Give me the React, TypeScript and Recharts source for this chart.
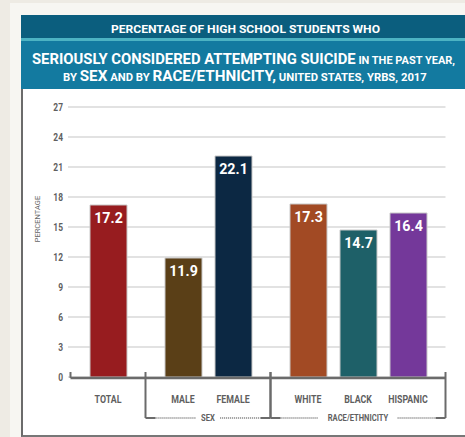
import React, { useLayoutEffect, useRef, useState } from "react";
import {
  BarChart,
  Bar,
  XAxis,
  YAxis,
  CartesianGrid,
  ReferenceLine,
  LabelList,
  Cell,
} from "recharts";

const categories = ["TOTAL", "MALE", "FEMALE", "WHITE", "BLACK", "HISPANIC"];
const percentages = [17.2, 11.9, 22.1, 17.3, 14.7, 16.4];
const groupOf = [0, 1, 1, 2, 2, 2];
const groupNames = ["", "SEX", "RACE/ETHNICITY"];
const yTicks = [0, 3, 6, 9, 12, 15, 18, 21, 24, 27];

const BAR_COLORS = ["#971c1f", "#5a3f17", "#0c2843", "#a24a24", "#1e6068", "#74389a"];
const FONT = "Roboto, 'Liberation Sans', sans-serif";
const AXIS_GRAY = "#6b6b6b";
const TEXT_GRAY = "#5f5f5f";
// horizontal squeeze to imitate the condensed face of the original
const NARROW = 0.8;

// extra spacing (in bar slots) between groups
const GROUP_GAP = 0.5;
const HALF = (1 + GROUP_GAP) / 2;
const BRACKET_Y = -4.1;
const UP = 0.5;
const END = 0.2;

const data = categories.map((name, i) => ({
  name,
  value: percentages[i],
  pos: i + GROUP_GAP * groupOf[i],
}));

const groups = groupNames.map((label, g) => {
  const ps = data.filter((_, i) => groupOf[i] === g).map((d) => d.pos);
  return { label, from: Math.min(...ps) - HALF, to: Math.max(...ps) + HALF };
});

const seg = (x1: number, y1: number, x2: number, y2: number) => [
  { x: x1, y: y1 },
  { x: x2, y: y2 },
];

// squeezes a header line so it spans the given width
function FitText({ x, y, width, children }: any) {
  const ref = useRef<SVGTextElement>(null);
  const [s, setS] = useState(0.75);
  useLayoutEffect(() => {
    if (ref.current) {
      const w = ref.current.getBBox().width;
      if (w > 0) setS(width / w);
    }
  }, [width]);
  return (
    <text
      ref={ref}
      x={0}
      y={0}
      transform={`translate(${x} ${y}) scale(${s} 1)`}
      fill="#ffffff"
      fontFamily={FONT}
      fontWeight={700}
    >
      {children}
    </text>
  );
}

const XTick = ({ x, y, payload }: any) => (
  <text
    x={0}
    y={0}
    transform={`translate(${x} ${y}) scale(${NARROW} 1)`}
    textAnchor="middle"
    dy="0.71em"
    fill={TEXT_GRAY}
    fontSize={11}
    fontWeight={700}
    fontFamily={FONT}
  >
    {data.find((d) => d.pos === payload.value)?.name ?? ""}
  </text>
);

const YTick = ({ x, y, payload }: any) => (
  <text
    x={0}
    y={0}
    transform={`translate(${x} ${y}) scale(${NARROW} 1)`}
    textAnchor="end"
    dy="0.36em"
    fill={TEXT_GRAY}
    fontSize={10.5}
    fontWeight={700}
    fontFamily={FONT}
  >
    {payload.value}
  </text>
);

const ValueLabel = (p: any) => {
  const cx = Number(p.x) + Number(p.width) / 2;
  const top = Number(p.y) + 7;
  return (
    <text
      x={0}
      y={0}
      transform={`translate(${cx} ${top}) scale(0.95 1)`}
      textAnchor="middle"
      dy="0.71em"
      fill="#ffffff"
      fontSize={15}
      fontWeight={700}
      fontFamily={FONT}
    >
      {p.value}
    </text>
  );
};

const GroupLabel = (text: string) => (p: any) => {
  const vb = p.viewBox || { x: 0, y: 0, width: 0, height: 0 };
  const cx = vb.x + (vb.width || 0) / 2;
  const cy = vb.y + (vb.height || 0) / 2;
  return (
    <text
      x={0}
      y={0}
      transform={`translate(${cx} ${cy}) scale(${NARROW} 1)`}
      textAnchor="middle"
      dy="0.36em"
      fill={TEXT_GRAY}
      fontSize={9.5}
      fontWeight={700}
      fontFamily={FONT}
    >
      {text}
    </text>
  );
};

export default function App() {
  const first = groups[0];
  const last = groups[groups.length - 1];

  // bracket under the x axis, drawn with the chart's own scales
  const bracket: React.ReactNode[] = [];
  bracket.push(
    <ReferenceLine
      key="base"
      segment={seg(first.from, -0.1, last.to, -0.1)}
      stroke={AXIS_GRAY}
      strokeWidth={2.5}
      ifOverflow="visible"
    />,
    <ReferenceLine
      key="left"
      segment={seg(first.from, -0.1, first.from, UP)}
      stroke={AXIS_GRAY}
      strokeWidth={2}
      ifOverflow="visible"
    />
  );
  groups.slice(1).forEach((g, k) => {
    const mid = (g.from + g.to) / 2;
    const gap = 0.05 * g.label.length + 0.09;
    [g.from, g.to].forEach((x, j) =>
      bracket.push(
        <ReferenceLine
          key={`v${k}${j}`}
          segment={seg(x, UP, x, BRACKET_Y)}
          stroke={AXIS_GRAY}
          strokeWidth={2}
          ifOverflow="visible"
        />
      )
    );
    bracket.push(
      <ReferenceLine
        key={`s${k}a`}
        segment={seg(g.from, BRACKET_Y, g.from + END, BRACKET_Y)}
        stroke={AXIS_GRAY}
        strokeWidth={2}
        ifOverflow="visible"
      />,
      <ReferenceLine
        key={`s${k}b`}
        segment={seg(g.to - END, BRACKET_Y, g.to, BRACKET_Y)}
        stroke={AXIS_GRAY}
        strokeWidth={2}
        ifOverflow="visible"
      />,
      <ReferenceLine
        key={`d${k}a`}
        segment={seg(g.from + END, BRACKET_Y, mid - gap, BRACKET_Y)}
        stroke="#8a8a8a"
        strokeWidth={1.5}
        strokeDasharray="1.2 0.8"
        ifOverflow="visible"
      />,
      <ReferenceLine
        key={`d${k}b`}
        segment={seg(mid + gap, BRACKET_Y, g.to - END, BRACKET_Y)}
        stroke="#8a8a8a"
        strokeWidth={1.5}
        strokeDasharray="1.2 0.8"
        ifOverflow="visible"
      />,
      <ReferenceLine
        key={`l${k}`}
        segment={seg(mid - gap, BRACKET_Y, mid + gap, BRACKET_Y)}
        stroke="none"
        ifOverflow="visible"
        label={{ content: GroupLabel(g.label) }}
      />
    );
  });

  return (
    <div
      style={{
        position: "absolute",
        left: 0,
        top: 0,
        width: 465,
        height: 437,
        background: "#eeebe4",
        overflow: "hidden",
        fontFamily: FONT,
      }}
    >
      <div
        style={{
          position: "absolute",
          left: 10,
          top: 3,
          width: 455,
          height: 434,
          background: "#f7f6f2",
        }}
      />
      <div
        style={{
          position: "absolute",
          left: 21,
          top: 15,
          width: 446,
          height: 420,
          background: "#ffffff",
          borderLeft: `2px solid ${AXIS_GRAY}`,
          borderBottom: `2px solid #777777`,
        }}
      />
      {/* header */}
      <svg
        width={465}
        height={437}
        style={{ position: "absolute", left: 0, top: 0 }}
      >
        <rect x={21} y={15} width={444} height={23} fill="#0b5e7e" />
        <rect x={21} y={38} width={444} height={3} fill="#4cb3c3" />
        <rect x={21} y={41} width={444} height={48} fill="#137aa0" />
        <FitText x={111} y={33} width={269}>
          <tspan fontSize={11.5}>PERCENTAGE OF HIGH SCHOOL STUDENTS WHO</tspan>
        </FitText>
        <FitText x={32} y={63.5} width={423}>
          <tspan fontSize={15.5}>SERIOUSLY CONSIDERED ATTEMPTING SUICIDE</tspan>
          <tspan fontSize={11.5}> IN THE PAST YEAR,</tspan>
        </FitText>
        <FitText x={63} y={80.5} width={364}>
          <tspan fontSize={11.5}>BY </tspan>
          <tspan fontSize={15.5}>SEX</tspan>
          <tspan fontSize={11.5}> AND BY </tspan>
          <tspan fontSize={15.5}>RACE/ETHNICITY,</tspan>
          <tspan fontSize={11.5}> UNITED STATES, YRBS, 2017</tspan>
        </FitText>
      </svg>
      <div style={{ position: "absolute", left: 0, top: 0 }}>
        <BarChart
          width={465}
          height={437}
          data={data}
          margin={{ top: 107, right: 19.5, bottom: 30, left: 0 }}
        >
          <CartesianGrid
            horizontal
            vertical={false}
            stroke="#d9d9d9"
            strokeWidth={1.5}
          />
          <XAxis
            type="number"
            dataKey="pos"
            domain={[-0.8, last.to]}
            ticks={data.map((d) => d.pos)}
            interval={0}
            axisLine={false}
            tickLine={false}
            tickSize={0}
            tickMargin={18}
            height={30}
            allowDataOverflow
            tick={<XTick />}
          />
          <YAxis
            type="number"
            domain={[0, 27]}
            ticks={yTicks}
            interval={0}
            width={68}
            axisLine={false}
            tickLine={false}
            tickSize={0}
            tickMargin={5}
            tick={<YTick />}
            label={{
              content: (p: any) => {
                const vb = p.viewBox || { x: 0, y: 107, height: 270 };
                const cx = vb.x + 38;
                const cy = vb.y + vb.height * 0.415;
                return (
                  <text
                    x={cx}
                    y={cy}
                    transform={`rotate(-90, ${cx}, ${cy})`}
                    textAnchor="middle"
                    dominantBaseline="central"
                    fill="#666666"
                    fontSize={7.5}
                    fontFamily={FONT}
                  >
                    PERCENTAGE
                  </text>
                );
              },
            }}
          />
          <Bar
            dataKey="value"
            barSize={37}
            stroke="#c8c8c8"
            strokeWidth={1}
            isAnimationActive={false}
          >
            {data.map((d, i) => (
              <Cell key={d.name} fill={BAR_COLORS[i]} />
            ))}
            <LabelList dataKey="value" content={ValueLabel} />
          </Bar>
          {bracket}
        </BarChart>
      </div>
    </div>
  );
}
